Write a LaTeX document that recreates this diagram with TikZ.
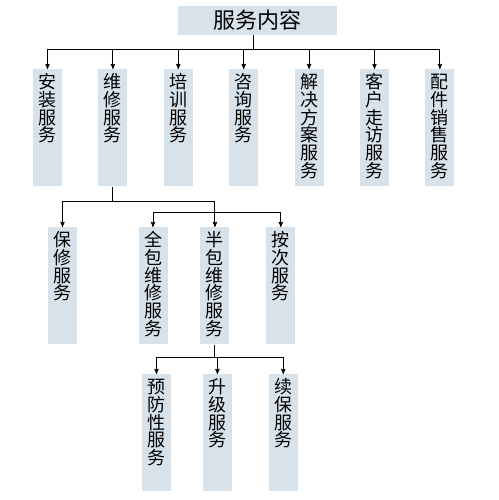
\documentclass[tikz,border=0pt]{standalone}
\usepackage{fontspec}
\newfontfamily\cjk{Noto Sans CJK SC}
\usetikzlibrary{positioning,arrows}
\definecolor{boxblue}{HTML}{D8E2EA}

\begin{document}
\begin{tikzpicture}[x=1pt,y=-1pt,>=stealth',line width=0.9pt,node distance=35.5pt,
  title/.style={fill=boxblue,minimum width=159pt,minimum height=29pt,inner sep=0pt,
    font=\cjk\fontsize{22}{22}\selectfont},
  service/.style={fill=boxblue,anchor=north,minimum width=29pt,text width=20pt,align=center,
    inner sep=0pt,text height=19pt,text depth=98pt,font=\cjk\fontsize{18}{17.8}\selectfont}]
   \useasboundingbox (0,0) rectangle (498,500);
   % top
   \node[title]                          (top)      at (257.5,20.5) {服务内容};
   % first row
   \node[service]                        (anzhuang) at (47.5,69)    {安\\装\\服\\务};
   \node[service,right=of anzhuang]      (weixiu)                   {维\\修\\服\\务};
   \node[service,right=of weixiu]        (peixun)                   {培\\训\\服\\务};
   \node[service,right=of peixun]        (zixun)                    {咨\\询\\服\\务};
   \node[service,right=of zixun]         (jiejue)                   {解\\决\\方\\案\\服\\务};
   \node[service,right=of jiejue]        (zoufang)                  {客\\户\\走\\访\\服\\务};
   \node[service,right=of zoufang]       (peijian)                  {配\\件\\销\\售\\服\\务};
   % second row
   \node[service]                        (baoxiu)   at (62.5,227)   {保\\修\\服\\务};
   \node[service]                        (quanbao)  at (153,227)    {全\\包\\维\\修\\服\\务};
   \node[service,right=32pt of quanbao]  (banbao)                   {半\\包\\维\\修\\服\\务};
   \node[service,right=36pt of banbao]   (anci)                     {按\\次\\服\\务};
   % third row
   \node[service]                        (yufang)   at (156.5,374)  {预\\防\\性\\服\\务};
   \node[service,right=31pt of yufang]   (shengji)                  {升\\级\\服\\务};
   \node[service,right=36pt of shengji]  (xubao)                    {续\\保\\服\\务};

   \coordinate (bus1) at (253,49);
   \coordinate (bus2) at (0,201);
   \coordinate (bus3) at (0,212);
   \coordinate (bus4) at (0,357);

   \draw (bus1 |- top.south) -- (bus1);
   \draw (anzhuang.north |- bus1) -- (peijian.north |- bus1);
   \foreach \n in {anzhuang,weixiu,peixun,zixun,jiejue,zoufang,peijian}
     \draw[->] (\n.north |- bus1) -- (\n.north);

   \draw (weixiu.south) -- (weixiu.south |- bus2);
   \draw (baoxiu.north |- bus2) -- (banbao.north |- bus2);
   \draw[->] (baoxiu.north |- bus2) -- (baoxiu.north);
   \draw[->] (banbao.north |- bus2) -- (banbao.north);
   \draw (quanbao.north |- bus3) -- (anci.north |- bus3);
   \draw[->] (quanbao.north |- bus3) -- (quanbao.north);
   \draw[->] (anci.north |- bus3) -- (anci.north);

   \draw (banbao.south) -- (banbao.south |- bus4);
   \draw (yufang.north |- bus4) -- (xubao.north |- bus4);
   \foreach \n in {yufang,shengji,xubao}
     \draw[->] (\n.north |- bus4) -- (\n.north);
\end{tikzpicture}
\end{document}
